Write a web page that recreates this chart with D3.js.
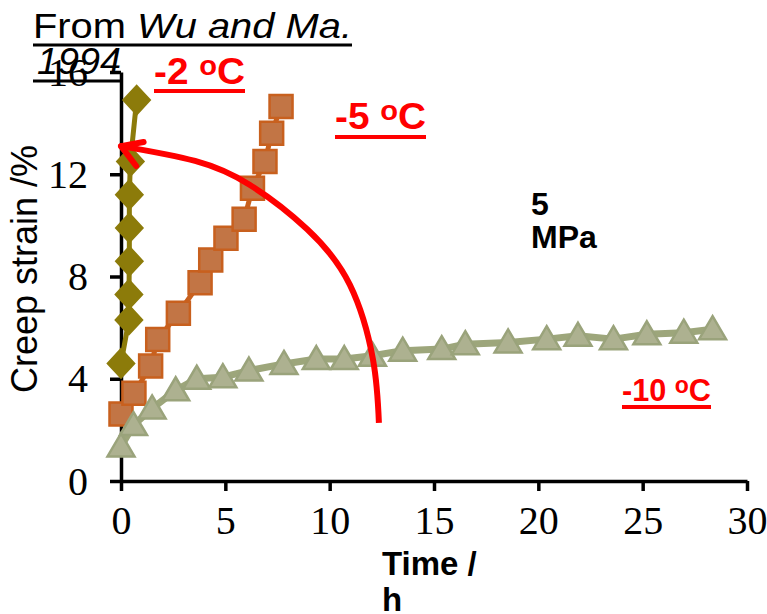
<!DOCTYPE html>
<html>
<head>
<meta charset="utf-8">
<script src="https://cdn.jsdelivr.net/npm/d3@7"></script>
<style>
  body { margin: 0; background: #fff; }
  svg { display: block; }
</style>
</head>
<body>
<div id="chart"></div>
<script>
// ticks
const xTicks = [0, 5, 10, 15, 20, 25, 30];
const yTicks = [0, 4, 8, 12, 16];

// -2 oC (diamonds)
const timeM2 = [0, 0.38, 0.38, 0.4, 0.4, 0.4, 0.45, 0.75];
const strainM2 = [4.6, 6.3, 7.3, 8.6, 9.9, 11.2, 12.5, 14.9];

// -5 oC (squares)
const timeM5 = [0, 0.62, 1.42, 1.76, 2.75, 3.79, 4.3, 5.03, 5.9, 6.3, 6.9, 7.22, 7.67];
const strainM5 = [2.62, 3.43, 4.5, 5.54, 6.56, 7.76, 8.65, 9.5, 10.24, 11.45, 12.5, 13.6, 14.65];

// -10 oC (triangles)
const timeM10 = [0, 0.6, 1.49, 2.62, 3.63, 4.88, 6.13, 7.81, 9.36, 10.7, 12.05, 13.5, 15.37, 16.5, 18.55, 20.4, 21.9, 23.6, 25.2, 26.97, 28.35];
const strainM10 = [1.35, 2.19, 2.84, 3.55, 4.0, 4.06, 4.32, 4.58, 4.77, 4.77, 4.9, 5.1, 5.16, 5.35, 5.42, 5.55, 5.68, 5.55, 5.74, 5.8, 5.94];

// red curved arrow (data units), last point is the tip
const arrowTime = [12.36, 12.08, 10.97, 8.91, 6.18, 3.55, 0];
const arrowStrain = [2.27, 4.73, 7.67, 9.86, 11.58, 12.52, 13.1];

const width = 767, height = 614;
const svg = d3.select('#chart').append('svg')
  .attr('width', width).attr('height', height)
  .style('font-family', 'Liberation Sans, Arial, sans-serif');

const x = d3.scaleLinear().domain([0, 30]).range([121, 747]);
const y = d3.scaleLinear().domain([0, 16]).range([481, 72]);

// AXES
const axisX = svg.append('g')
  .attr('transform', `translate(0,${y(0)})`)
  .call(d3.axisBottom(x).tickValues(xTicks).tickSize(10).tickPadding(14).tickSizeOuter(0));
const axisY = svg.append('g')
  .attr('transform', `translate(${x(0)},0)`)
  .call(d3.axisLeft(y).tickValues(yTicks).tickSize(11).tickPadding(22).tickSizeOuter(0));

[axisX, axisY].forEach(a => {
  a.select('.domain').attr('stroke', '#000').attr('stroke-width', 3.5);
  a.selectAll('.tick line').attr('stroke', '#000').attr('stroke-width', 3.5);
  a.selectAll('.tick text')
    .attr('fill', '#000')
    .style('font-family', 'Liberation Serif, Times New Roman, serif')
    .style('font-size', '40px');
});
axisY.selectAll('.tick text').attr('dy', '0.33em');
axisX.selectAll('.tick text').attr('dy', '0.72em');

// axis titles
svg.append('text')
  .attr('transform', `translate(37,269) rotate(-90)`)
  .attr('text-anchor', 'middle')
  .style('font-size', '36px')
  .text('Creep strain /%');

const xt = svg.append('text')
  .attr('x', 382).attr('y', 575)
  .style('font-size', '33px').style('font-weight', 'bold');
xt.append('tspan').text('Time /');
xt.append('tspan').attr('x', 382).attr('dy', 36).text('h');

// SERIES
const line = d3.line().x(d => x(d[0])).y(d => y(d[1]));
const zip = (a, b) => a.map((v, i) => [v, b[i]]);

const diamond = 'M0,-14L13,0L0,14L-13,0Z';
const square = 'M-11.5,-11.5H11.5V11.5H-11.5Z';
const triangle = 'M0,-13L13.5,10L-13.5,10Z';

const series = [
  { pts: zip(timeM2, strainM2), line: '#8c7b0a', lw: 5, fill: '#8c7b0a', stroke: '#8c7b0a', shape: diamond },
  { pts: zip(timeM5, strainM5), line: '#c8601e', lw: 5, fill: '#c27545', stroke: '#c8601e', shape: square },
  { pts: zip(timeM10, strainM10), line: '#9da67b', lw: 7, fill: '#adb190', stroke: '#9aa37b', shape: triangle }
];

series.forEach(s => {
  svg.append('path')
    .datum(s.pts)
    .attr('fill', 'none')
    .attr('stroke', s.line)
    .attr('stroke-width', s.lw)
    .attr('stroke-linejoin', 'round')
    .attr('d', line);
  svg.append('g').selectAll('path')
    .data(s.pts)
    .join('path')
    .attr('transform', d => `translate(${x(d[0])},${y(d[1])})`)
    .attr('d', s.shape)
    .attr('fill', s.fill)
    .attr('stroke', s.stroke)
    .attr('stroke-width', 2.5);
});

// ARROW
const arrowPts = zip(arrowTime, arrowStrain);
svg.append('path')
  .datum(arrowPts)
  .attr('fill', 'none')
  .attr('stroke', '#ff0000')
  .attr('stroke-width', 6)
  .attr('d', d3.line().x(d => x(d[0])).y(d => y(d[1])).curve(d3.curveNatural));

const tip = arrowPts[arrowPts.length - 1];
const prev = arrowPts[arrowPts.length - 2];
const ang = Math.atan2(y(prev[1]) - y(tip[1]), x(prev[0]) - x(tip[0]));
[[-0.38, 23], [0.72, 25]].forEach(([da, bl]) => {
  svg.append('line')
    .attr('x1', x(tip[0])).attr('y1', y(tip[1]))
    .attr('x2', x(tip[0]) + bl * Math.cos(ang + da))
    .attr('y2', y(tip[1]) + bl * Math.sin(ang + da))
    .attr('stroke', '#ff0000').attr('stroke-width', 6).attr('stroke-linecap', 'round');
});

// LABELS
function underline(textSel, yy, sw, color) {
  const bb = textSel.node().getBBox();
  svg.append('line')
    .attr('x1', bb.x).attr('x2', bb.x + bb.width)
    .attr('y1', yy).attr('y2', yy)
    .attr('stroke', color).attr('stroke-width', sw);
}

const src1 = svg.append('text').attr('x', 33).attr('y', 38)
  .attr('textLength', 319).attr('lengthAdjust', 'spacingAndGlyphs')
  .style('font-size', '35px');
src1.append('tspan').text('From ');
src1.append('tspan').style('font-style', 'italic').text('Wu and Ma.');
underline(src1, 45, 3, '#000');
svg.append('text').attr('x', 37).attr('y', 74)
  .attr('textLength', 84).attr('lengthAdjust', 'spacingAndGlyphs')
  .style('font-size', '36px').style('font-style', 'italic').text('1994');
svg.append('line').attr('x1', 33).attr('x2', x(0)).attr('y1', 81).attr('y2', 81)
  .attr('stroke', '#000').attr('stroke-width', 3);

function tempLabel(txt, lx, ly, fs, uy, len) {
  const t = svg.append('text').attr('x', lx).attr('y', ly)
    .attr('textLength', len).attr('lengthAdjust', 'spacingAndGlyphs')
    .attr('fill', '#ff0000').style('font-size', fs + 'px').style('font-weight', 'bold');
  t.append('tspan').text(txt + ' ');
  t.append('tspan').style('font-size', (fs * 0.75) + 'px').attr('dy', -fs * 0.26).text('o');
  t.append('tspan').attr('dy', fs * 0.26).text('C');
  underline(t, uy, 4, '#ff0000');
}
tempLabel('-2', 154, 84, 36, 91, 91);
tempLabel('-5', 335, 129, 36, 137, 91);
tempLabel('-10', 622, 401, 31, 407, 89);

const mpa = svg.append('text').attr('x', 531).attr('y', 215)
  .style('font-size', '32px').style('font-weight', 'bold');
mpa.append('tspan').text('5');
mpa.append('tspan').attr('x', 531).attr('dy', 33).text('MPa');
</script>
</body>
</html>
